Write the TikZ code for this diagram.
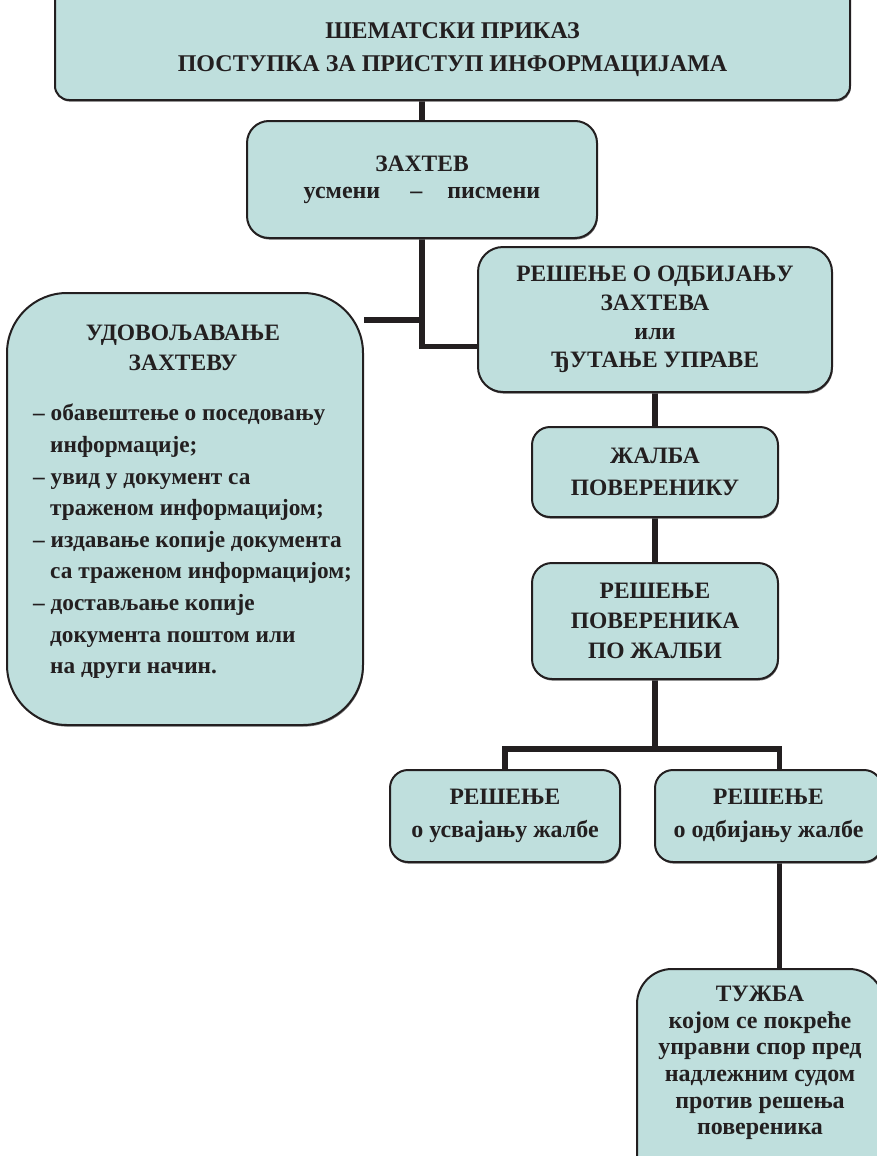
\documentclass[tikz,border=0pt]{standalone}
\usepackage{fontspec}
\setmainfont{Liberation Serif}
\usetikzlibrary{calc,shadows}
\definecolor{boxfill}{HTML}{BFDFDD}
\definecolor{ink}{HTML}{231F20}
\pgfdeclarelayer{bg}
\pgfsetlayers{bg,main}
\newcommand{\lc}{\fontsize{24}{29}\selectfont}
\begin{document}
\begin{tikzpicture}[x=1pt,y=-1pt,
  box/.style={draw=ink, line width=2pt, fill=boxfill, rounded corners=#1,
    inner sep=0pt, align=center, text=ink,
    drop shadow={shadow xshift=0.8pt, shadow yshift=-1.6pt, fill=black!55, opacity=1},
    font=\bfseries\fontsize{23.5}{29}\selectfont},
  box/.default=18pt,
  txt/.style={inner sep=0pt, text=ink, font=\bfseries\fontsize{23.5}{29}\selectfont},
  conn/.style={draw=ink, line width=5.5pt}]
\useasboundingbox (0,0) rectangle (877,1156);
\clip (0,0) rectangle (877,1156);

% boxes
\node[box=14pt, minimum width=795pt, minimum height=115pt] (title) at (452.5,42.5) {};
\node[txt, align=center, font=\bfseries\fontsize{24}{33}\selectfont] (titletext) at (452.5,49.5)
  {ШЕМАТСКИ ПРИКАЗ\\ПОСТУПКА ЗА ПРИСТУП ИНФОРМАЦИЈАМА};

\node[box=22pt, minimum width=350pt, minimum height=117pt,
  font=\bfseries\fontsize{23.5}{27}\selectfont] (zahtev) at (422,179.5)
  {ЗАХТЕВ\\{\lc усмени\hspace{30pt}–\hspace{25pt}писмени}};

\node[box=25pt, minimum width=354pt, minimum height=145pt,
  font=\bfseries\fontsize{23.5}{28.7}\selectfont] (resenje) at (655,319.5)
  {РЕШЕЊЕ О ОДБИЈАЊУ\\ЗАХТЕВА\\{\lc или}\\ЂУТАЊЕ УПРАВЕ};

\node[box=60pt, minimum width=356pt, minimum height=432pt] (udov) at (185,509) {};
\node[txt, align=center, font=\bfseries\fontsize{23.5}{30}\selectfont] (udovtitle) at (183,348)
  {УДОВОЉАВАЊЕ\\ЗАХТЕВУ};
\node[txt, align=left, anchor=west, font=\bfseries\fontsize{23.3}{31.6}\selectfont] (udovlist) at (33,541.5)
  {– обавештење о поседовању\\
   \hspace*{17pt}информације;\\
   – увид у документ са\\
   \hspace*{17pt}траженом информацијом;\\
   – издавање копије документа\\
   \hspace*{17pt}са траженом информацијом;\\
   – достављање копије\\
   \hspace*{17pt}документа поштом или\\
   \hspace*{17pt}на други начин.};

\node[box=18pt, minimum width=246pt, minimum height=90pt,
  font=\bfseries\fontsize{23.5}{32}\selectfont] (zalba) at (655,472)
  {ЖАЛБА\\ПОВЕРЕНИКУ};

\node[box=20pt, minimum width=246pt, minimum height=116pt,
  font=\bfseries\fontsize{23.5}{30}\selectfont] (rpz) at (655,621)
  {РЕШЕЊЕ\\ПОВЕРЕНИКА\\ПО ЖАЛБИ};

\node[box=18pt, minimum width=230pt, minimum height=92pt,
  font=\bfseries\fontsize{23.5}{33}\selectfont] (rusv) at (505,816)
  {РЕШЕЊЕ\\{\lc о усвајању жалбе}};

\node[box=18pt, minimum width=227pt, minimum height=92pt,
  font=\bfseries\fontsize{23.5}{33}\selectfont] (rodb) at (768.5,816)
  {РЕШЕЊЕ\\{\lc о одбијању жалбе}};

\node[box=35pt, minimum width=247pt, minimum height=221pt] (tuzba) at (760.5,1079.5) {};
\node[txt, align=center, font=\bfseries\fontsize{24}{26.6}\selectfont] (tuzbatext) at (760,1063)
  {{\fontsize{23.5}{26.6}\selectfont ТУЖБА}\\којом се покреће\\управни спор пред\\надлежним судом\\против решења\\повереника};

% connectors
\begin{pgfonlayer}{bg}
  \coordinate (j1) at ($(resenje.west)+(0,27)$);
  \coordinate (j2) at ($(zahtev.south)+(0,81)$);
  \coordinate (fork) at ($(rpz.south)+(0,69)$);
  \coordinate (rodbtop) at ($(rodb.north)+(11,0)$);
  \coordinate (rodbbot) at ($(rodb.south)+(11,0)$);
  \draw[conn] (zahtev.north |- title.south) -- (zahtev.north);
  \draw[conn] (zahtev.south) |- (j1);
  \draw[conn] (j2) -- (j2 -| udov.east);
  \draw[conn] (resenje.south) -- (zalba.north);
  \draw[conn] (zalba.south) -- (rpz.north);
  \draw[conn] (rpz.south) -- (fork);
  \draw[conn] (rusv.north) |- (fork) -| (rodbtop);
  \draw[conn] (rodbbot) -- (rodbbot |- tuzba.north);
\end{pgfonlayer}
\end{tikzpicture}
\end{document}
